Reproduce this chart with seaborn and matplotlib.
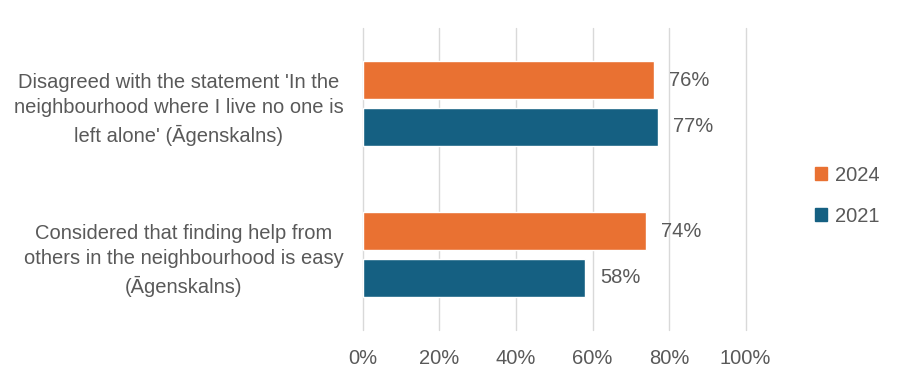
import pandas as pd
import matplotlib.pyplot as plt
import seaborn as sns
from matplotlib.patches import Patch

# Data
categories = [
    "Disagreed with the statement 'In the\nneighbourhood where I live no one is\nleft alone' (Āgenskalns)",
    "Considered that finding help from\nothers in the neighbourhood is easy\n(Āgenskalns)",
]
years = ["2024", "2021"]
values_2024 = [76, 74]
values_2021 = [77, 58]

df = pd.DataFrame({
    "category": categories * 2,
    "year": [years[0]] * 2 + [years[1]] * 2,
    "value": values_2024 + values_2021,
})

sns.set_style("white")
plt.rcParams["font.family"] = ["Liberation Sans", "DejaVu Sans"]
text_color = "#595959"
palette = {"2024": "#E97132", "2021": "#156082"}
fs = 14.5

fig = plt.figure(figsize=(9, 3.89), dpi=100)
ax = fig.add_axes([0.4033, 0.1517, 0.4251, 0.7763])

sns.barplot(data=df, y="category", x="value", hue="year", hue_order=years,
            palette=palette, orient="h", width=0.617, gap=0.175,
            saturation=1, legend=False, ax=ax)

for cont in ax.containers:
    ax.bar_label(cont, labels=[f"{v:.0f}%" for v in cont.datavalues],
                 padding=11, fontsize=fs, color=text_color)

ax.set_xlim(0, 100)
ax.set_xticks(range(0, 101, 20))
ax.set_xticklabels([f"{t}%" for t in range(0, 101, 20)])
ax.set_ylim(1.5, -0.5)
ax.xaxis.grid(True, color="#D9D9D9", linewidth=1)
for gl in ax.get_xgridlines():
    gl.set_clip_on(False)
ax.set_axisbelow(True)
for s in ax.spines.values():
    s.set_visible(False)
ax.set_xlabel("")
ax.set_ylabel("")
ax.tick_params(axis="x", length=0, pad=14, labelsize=fs, labelcolor=text_color)
ax.tick_params(axis="y", length=0, pad=14, labelsize=fs, labelcolor=text_color)
for lab in ax.get_yticklabels():
    lab.set_multialignment("center")
    lab.set_linespacing(1.45)

handles = [Patch(color=palette[y]) for y in years]
fig.legend(handles, years, loc="center left", bbox_to_anchor=(0.885, 0.497),
           frameon=False, fontsize=fs, labelcolor=text_color,
           handlelength=0.6, handleheight=0.6, labelspacing=1.1, handletextpad=0.4)

fig.savefig("out.png", dpi=100)
